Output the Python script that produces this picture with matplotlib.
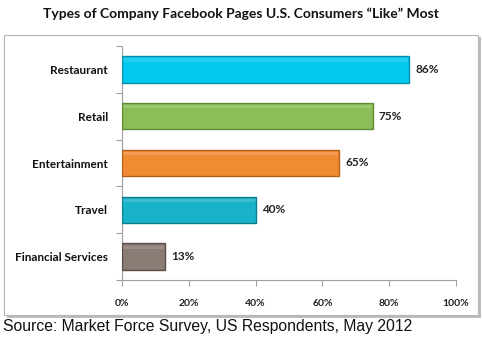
import numpy as np
import matplotlib.pyplot as plt
from matplotlib.patches import Rectangle

# survey results, top to bottom
categories = ['Restaurant', 'Retail', 'Entertainment', 'Travel', 'Financial Services']
shares = [86, 75, 65, 40, 13]
bar_colors = ['#00C8EE', '#8CBE58', '#F18B33', '#19B3C9', '#8A7B74']
edge_colors = ['#0A8FAA', '#5E8A36', '#B1601C', '#0E7E8E', '#5A4C46']
xticks = [0, 20, 40, 60, 80, 100]

title_font = 'Lato'

fig = plt.figure(figsize=(4.82, 3.40), dpi=100)
fig.patch.set_facecolor('white')

# framed panel with a soft drop shadow, kept behind the axes
W, H = 482, 340
shadow = Rectangle((7 / W, 1 - 318 / H), 474 / W, 281 / H, transform=fig.transFigure,
                   facecolor='#BDBDBD', edgecolor='none', zorder=-2)
panel = Rectangle((4 / W, 1 - 315 / H), 474 / W, 280 / H, transform=fig.transFigure,
                  facecolor='white', edgecolor='#B5B5B5', linewidth=0.8, zorder=-1)
fig.patches.extend([shadow, panel])

ax = fig.add_axes([122 / W, 1 - 280 / H, 334 / W, 234 / H])
ax.set_facecolor('none')

y = np.arange(len(categories))
ax.barh(y, shares, height=0.56, color=bar_colors, edgecolor=edge_colors, linewidth=1.0, zorder=3)

# faint highlight along the top of each bar
for yi, v in zip(y, shares):
    ax.barh(yi - 0.2, v - 0.6, height=0.07, left=0.3, color='white', alpha=0.15,
            linewidth=0, zorder=4)

for yi, v in zip(y, shares):
    ax.text(v + 1.8, yi, f'{v}%', va='center', ha='left', fontsize=8.5,
            fontweight='bold', family=title_font, color='#222222')

ax.set_xlim(0, 100)
ax.set_ylim(len(categories) - 0.5, -0.5)

ax.set_xticks(xticks)
ax.set_xticklabels([f'{t}%' for t in xticks], fontsize=7.5, fontweight='bold',
                   family=title_font, color='#222222')
ax.set_yticks(y)
ax.set_yticklabels(categories, fontsize=8.5, fontweight='bold', family=title_font,
                   color='#111111')
ax.set_yticks(np.arange(-0.5, len(categories), 1), minor=True)

ax.tick_params(axis='y', which='major', length=0, pad=10)
ax.tick_params(axis='y', which='minor', length=4, color='#A0A0A0', width=0.8)
ax.tick_params(axis='x', length=4, color='#A0A0A0', width=0.8, pad=10)

for side in ['top', 'right']:
    ax.spines[side].set_visible(False)
for side in ['left', 'bottom']:
    ax.spines[side].set_color('#A0A0A0')
    ax.spines[side].set_linewidth(0.8)

fig.text(0.5, 1 - 14 / H, 'Types of Company Facebook Pages U.S. Consumers \u201cLike\u201d Most',
         ha='center', va='center', fontsize=10, fontweight='bold', family=title_font,
         color='#111111')
fig.text(3 / W, 1 - 327 / H, 'Source: Market Force Survey, US Respondents, May 2012',
         ha='left', va='center', fontsize=11.3, family='Liberation Sans', color='#111111')

fig.savefig('out.png', dpi=100, facecolor='white')
